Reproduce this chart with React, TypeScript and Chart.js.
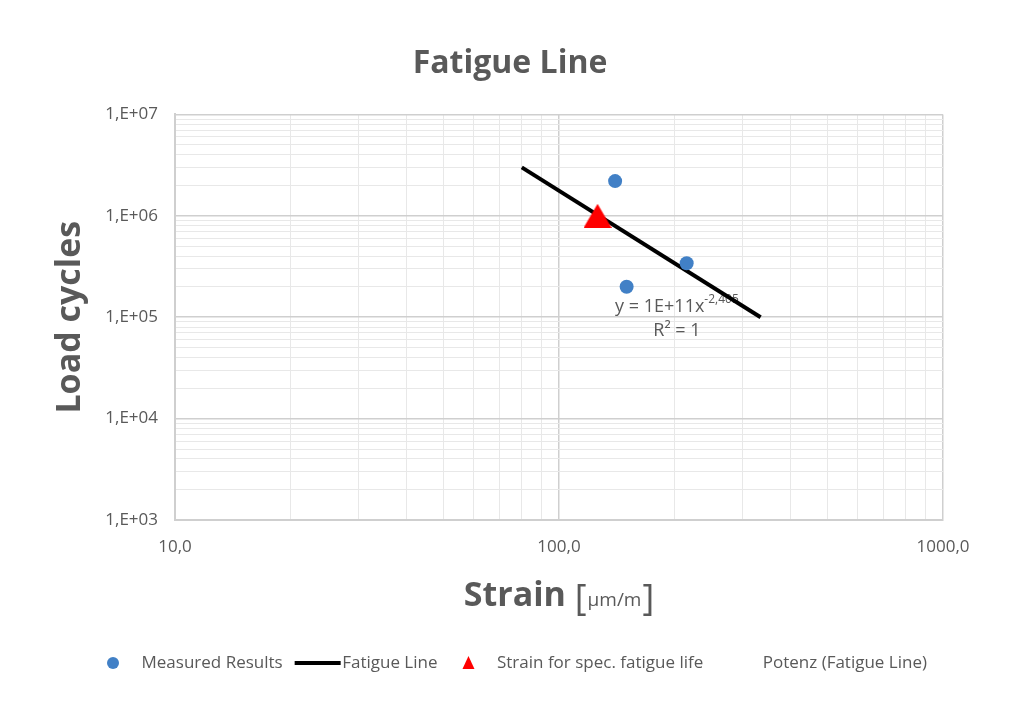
import React, { useEffect, useRef } from 'react';
import { Chart, registerables } from 'chart.js';

Chart.register(...registerables);

// ---- data ----
const measuredStrain = [140, 150, 215];
const measuredCycles = [2.2e6, 2.0e5, 3.4e5];
const fatigueLineStrain = [80, 335];
const fatigueLineCycles = [3.0e6, 1.0e5];
const specStrain = [126];
const specCycles = [1.0e6];

const seriesNames = [
  'Measured Results',
  'Fatigue Line',
  'Strain for spec. fatigue life',
  'Potenz (Fatigue Line)',
];

const strainMajorTicks = [10, 100, 1000];
const strainTickLabels = ['10,0', '100,0', '1000,0'];
const cycleMajorTicks = [1e3, 1e4, 1e5, 1e6, 1e7];
const cycleTickLabels = ['1,E+03', '1,E+04', '1,E+05', '1,E+06', '1,E+07'];
const minorMultipliers = [2, 3, 4, 5, 6, 7, 8, 9];

const chartTitle = 'Fatigue Line';
const yTitle = 'Load cycles';
const xTitleMain = 'Strain ';
const xTitleUnit = 'µm/m';
const trendEquation = 'y = 1E+11x';
const trendExponent = '-2,405';
const trendR2 = 'R² = 1';
const trendLabelAt = { strain: 140, cycles: 1.27e5 };

// ---- styles ----
const FONT = "'Open Sans', sans-serif";
const TEXT = '#595959';
const BLUE = '#4180c6';
const RED = '#ff0000';
const GRID_MAJOR = '#cfcfcf';
const GRID_MINOR = '#e8e8e8';

function buildTicks(majors: number[]) {
  const vals: number[] = [];
  majors.forEach((m, i) => {
    vals.push(m);
    if (i < majors.length - 1) minorMultipliers.forEach((k) => vals.push(m * k));
  });
  return vals.map((v) => ({ value: v, major: majors.includes(v) }));
}

const pts = (xs: number[], ys: number[]) => xs.map((x, i) => ({ x, y: ys[i] }));

function makeTriangle(w: number, h: number, color: string) {
  const c = document.createElement('canvas');
  c.width = w;
  c.height = h;
  const g = c.getContext('2d')!;
  g.fillStyle = color;
  g.beginPath();
  g.moveTo(w / 2, 0);
  g.lineTo(w, h);
  g.lineTo(0, h);
  g.closePath();
  g.fill();
  return c;
}

export default function App() {
  const ref = useRef<HTMLCanvasElement | null>(null);

  useEffect(() => {
    if (!ref.current) return;

    const triangleMarker = makeTriangle(28, 24, RED);

    const decorPlugin = {
      id: 'decor',
      beforeDatasetsDraw(chart: any) {
        const { ctx, scales } = chart;
        const x = scales.x.getPixelForValue(trendLabelAt.strain);
        const y = scales.y.getPixelForValue(trendLabelAt.cycles);
        ctx.save();
        ctx.fillStyle = TEXT;
        ctx.textBaseline = 'middle';
        ctx.textAlign = 'left';
        ctx.font = `18px ${FONT}`;
        const w1 = ctx.measureText(trendEquation).width;
        ctx.font = `12px ${FONT}`;
        const w2 = ctx.measureText(trendExponent).width;
        ctx.font = `18px ${FONT}`;
        ctx.fillText(trendEquation, x, y);
        ctx.font = `12px ${FONT}`;
        ctx.fillText(trendExponent, x + w1, y - 7);
        ctx.font = `18px ${FONT}`;
        ctx.textAlign = 'center';
        ctx.fillText(trendR2, x + (w1 + w2) / 2, y + 24);
        ctx.restore();
      },
      afterDraw(chart: any) {
        const { ctx, chartArea } = chart;
        ctx.save();
        // y axis title
        ctx.fillStyle = TEXT;
        ctx.font = `bold 34px ${FONT}`;
        ctx.textAlign = 'center';
        ctx.textBaseline = 'middle';
        ctx.translate(70, (chartArea.top + chartArea.bottom) / 2);
        ctx.rotate(-Math.PI / 2);
        ctx.fillText(yTitle, 0, 0);
        ctx.restore();

        // x axis title with small unit
        ctx.save();
        ctx.fillStyle = TEXT;
        ctx.textBaseline = 'alphabetic';
        ctx.textAlign = 'left';
        const big = `bold 34px ${FONT}`;
        const brk = `36px ${FONT}`;
        const small = `19px ${FONT}`;
        ctx.font = big;
        const wMain = ctx.measureText(xTitleMain).width;
        ctx.font = brk;
        const wL = ctx.measureText('[').width;
        const wR = ctx.measureText(']').width;
        ctx.font = small;
        const wU = ctx.measureText(xTitleUnit).width;
        const total = wMain + wL + wU + wR + 2;
        let cx = (chartArea.left + chartArea.right) / 2 - total / 2;
        const by = chartArea.bottom + 86;
        ctx.font = big;
        ctx.fillText(xTitleMain, cx, by);
        cx += wMain;
        ctx.font = brk;
        ctx.fillText('[', cx, by + 4);
        cx += wL + 1;
        ctx.font = small;
        ctx.fillText(xTitleUnit, cx, by);
        cx += wU + 1;
        ctx.font = brk;
        ctx.fillText(']', cx, by + 4);
        ctx.restore();

        // legend markers
        const legend = chart.legend;
        if (legend && legend.legendHitBoxes) {
          const bw = legend.options.labels.boxWidth;
          legend.legendHitBoxes.forEach((hb: any, i: number) => {
            const cy = hb.top + hb.height / 2;
            ctx.save();
            if (i === 0) {
              ctx.fillStyle = BLUE;
              ctx.beginPath();
              ctx.arc(hb.left + bw / 2, cy, 6, 0, Math.PI * 2);
              ctx.fill();
            } else if (i === 1) {
              ctx.strokeStyle = '#000';
              ctx.lineWidth = 4;
              ctx.beginPath();
              ctx.moveTo(hb.left + 1, cy);
              ctx.lineTo(hb.left + bw + 7, cy);
              ctx.stroke();
            } else if (i === 2) {
              ctx.fillStyle = RED;
              const mx = hb.left + bw / 2;
              ctx.beginPath();
              ctx.moveTo(mx, cy - 7);
              ctx.lineTo(mx + 6, cy + 6);
              ctx.lineTo(mx - 6, cy + 6);
              ctx.closePath();
              ctx.fill();
            }
            ctx.restore();
          });
        }
      },
    };

    const gridColor = (majors: number[]) => (c: any) =>
      c.tick && majors.includes(c.tick.value) ? GRID_MAJOR : GRID_MINOR;

    const chart = new Chart(ref.current, {
      type: 'scatter',
      data: {
        datasets: [
          {
            label: seriesNames[0],
            data: pts(measuredStrain, measuredCycles),
            backgroundColor: BLUE,
            borderColor: BLUE,
            pointRadius: 7,
            pointHoverRadius: 7,
            borderWidth: 0,
            order: 1,
          },
          {
            label: seriesNames[1],
            data: pts(fatigueLineStrain, fatigueLineCycles),
            showLine: true,
            borderColor: '#000000',
            backgroundColor: '#000000',
            borderWidth: 4,
            pointRadius: 0,
            order: 2,
          },
          {
            label: seriesNames[2],
            data: pts(specStrain, specCycles),
            pointStyle: triangleMarker,
            pointRadius: 14,
            pointHoverRadius: 14,
            backgroundColor: RED,
            borderColor: RED,
            borderWidth: 0,
            order: 0,
          },
          {
            label: seriesNames[3],
            data: [],
            borderColor: 'rgba(0,0,0,0)',
            backgroundColor: 'rgba(0,0,0,0)',
            order: 3,
          },
        ],
      },
      options: {
        animation: false,
        responsive: true,
        maintainAspectRatio: false,
        layout: { padding: { left: 77, right: 81, top: 0, bottom: 23 } },
        plugins: {
          tooltip: { enabled: false },
          title: {
            display: true,
            text: chartTitle,
            color: TEXT,
            font: { family: FONT, size: 32, weight: 'bold', lineHeight: 1.2 },
            padding: { top: 45, bottom: 31 },
          },
          legend: {
            position: 'bottom',
            labels: {
              color: TEXT,
              font: { family: FONT, size: 17 },
              boxWidth: 40,
              boxHeight: 18,
              padding: 11,
              generateLabels: () =>
                seriesNames.map((t, i) => ({
                  text: t,
                  fillStyle: 'rgba(0,0,0,0)',
                  strokeStyle: 'rgba(0,0,0,0)',
                  lineWidth: 0,
                  hidden: false,
                  datasetIndex: i,
                  fontColor: TEXT,
                })),
            },
          },
        },
        scales: {
          x: {
            type: 'logarithmic',
            min: 10,
            max: 1000,
            afterBuildTicks: (s: any) => {
              s.ticks = buildTicks(strainMajorTicks);
            },
            afterFit: (s: any) => {
              s.height = 123;
            },
            ticks: {
              autoSkip: false,
              maxRotation: 0,
              padding: 17,
              color: TEXT,
              font: { family: FONT, size: 17 },
              callback: (v: any) => {
                const i = strainMajorTicks.indexOf(Number(v));
                return i >= 0 ? strainTickLabels[i] : '';
              },
            },
            grid: {
              drawTicks: false,
              color: gridColor(strainMajorTicks),
              lineWidth: (c: any) => (c.tick && strainMajorTicks.includes(c.tick.value) ? 1.5 : 1),
            },
            border: { display: true, color: GRID_MAJOR, width: 2 },
          },
          y: {
            type: 'logarithmic',
            min: 1e3,
            max: 1e7,
            afterBuildTicks: (s: any) => {
              s.ticks = buildTicks(cycleMajorTicks);
            },
            afterFit: (s: any) => {
              s.width = 98;
            },
            ticks: {
              autoSkip: false,
              padding: 17,
              color: TEXT,
              font: { family: FONT, size: 17 },
              callback: (v: any) => {
                const i = cycleMajorTicks.indexOf(Number(v));
                return i >= 0 ? cycleTickLabels[i] : '';
              },
            },
            grid: {
              drawTicks: false,
              color: gridColor(cycleMajorTicks),
              lineWidth: (c: any) => (c.tick && cycleMajorTicks.includes(c.tick.value) ? 1.5 : 1),
            },
            border: { display: true, color: GRID_MAJOR, width: 2 },
          },
        },
      } as any,
      plugins: [decorPlugin],
    });

    return () => chart.destroy();
  }, []);

  return (
    <div style={{ position: 'absolute', left: 0, top: 0, width: 1024, height: 705, background: '#ffffff' }}>
      <canvas ref={ref} />
    </div>
  );
}
